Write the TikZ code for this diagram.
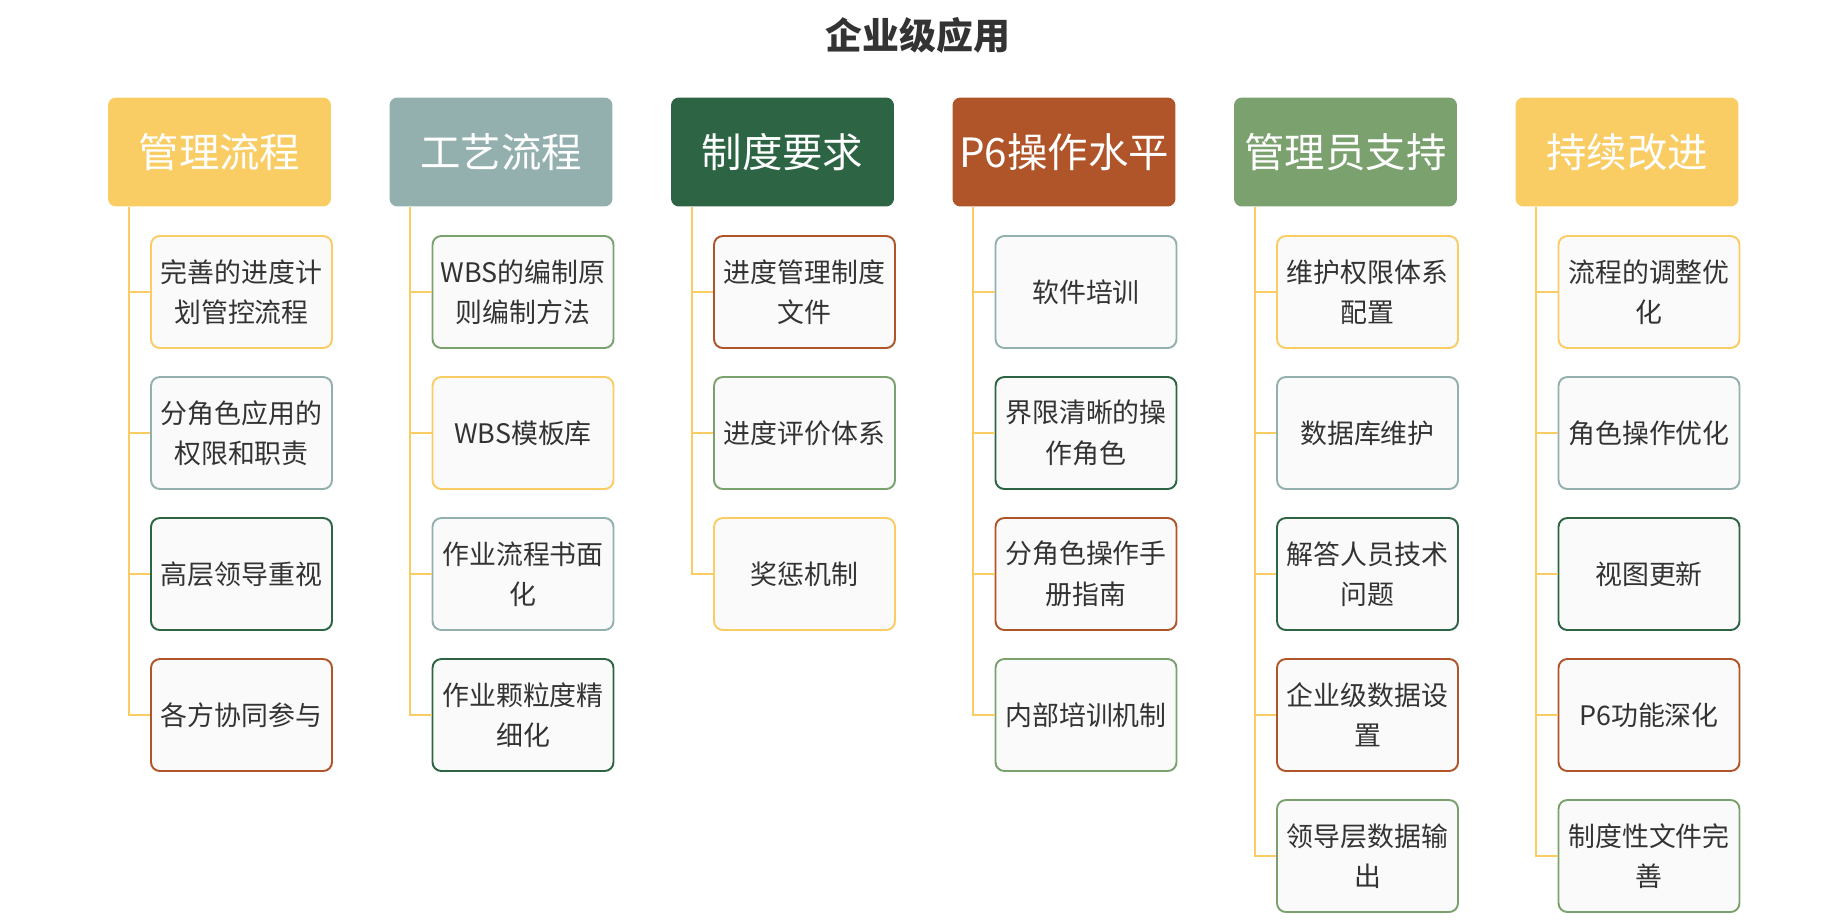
\documentclass[tikz,border=0pt]{standalone}
\usepackage{fontspec}
\usepackage{tikz}
\newfontfamily\cjk{Noto Sans CJK SC}
\definecolor{cyel}{HTML}{F9CC64}
\definecolor{cgry}{HTML}{93B0AE}
\definecolor{cdkg}{HTML}{2C6444}
\definecolor{crus}{HTML}{B0552A}
\definecolor{csag}{HTML}{7AA16E}
\definecolor{ctxt}{HTML}{333333}

\begin{document}
\begin{tikzpicture}[x=0.02cm, y=-0.02cm,
  every node/.style={font=\cjk},
  head/.style={rounded corners=4.5pt, minimum width=4.46cm, minimum height=2.18cm,
    text=white, font=\cjk\fontsize{23}{27}\selectfont},
  item/.style={rounded corners=5pt, line width=1.1pt, fill=black!2, text=ctxt,
    minimum width=3.62cm, minimum height=2.24cm, align=center,
    font=\cjk\fontsize{15.3}{23}\selectfont},
  trunk/.style={cyel, line width=1pt}]
  \useasboundingbox (0,0) rectangle (1847,921);
  \node[font=\cjk\bfseries\fontsize{21}{25}\selectfont, text=ctxt] (title) at (918,35) {企业级应用};

  % 管理流程
  \node[head, fill=cyel] (h1) at (219.5,152) {管理流程};
  \foreach \t/\c [count=\i] in {{完善的进度计\\划管控流程}/cyel, {分角色应用的\\权限和职责}/cgry,
      高层领导重视/cdkg, 各方协同参与/crus}
    \node[item, draw=\c] (c1-\i) at (241.5,151+141*\i) {\t};
  \foreach \i in {1,...,4} \draw[trunk] (h1.south west) ++(21,0) |- (c1-\i.west);

  % 工艺流程
  \node[head, fill=cgry] (h2) at (501,152) {工艺流程};
  \foreach \t/\c [count=\i] in {{WBS的编制原\\则编制方法}/csag, WBS模板库/cyel,
      {作业流程书面\\化}/cgry, {作业颗粒度精\\细化}/cdkg}
    \node[item, draw=\c] (c2-\i) at (523,151+141*\i) {\t};
  \foreach \i in {1,...,4} \draw[trunk] (h2.south west) ++(21,0) |- (c2-\i.west);

  % 制度要求
  \node[head, fill=cdkg] (h3) at (782.5,152) {制度要求};
  \foreach \t/\c [count=\i] in {{进度管理制度\\文件}/crus, 进度评价体系/csag, 奖惩机制/cyel}
    \node[item, draw=\c] (c3-\i) at (804.5,151+141*\i) {\t};
  \foreach \i in {1,...,3} \draw[trunk] (h3.south west) ++(21,0) |- (c3-\i.west);

  % P6操作水平
  \node[head, fill=crus] (h4) at (1064,152) {P6操作水平};
  \foreach \t/\c [count=\i] in {软件培训/cgry, {界限清晰的操\\作角色}/cdkg,
      {分角色操作手\\册指南}/crus, 内部培训机制/csag}
    \node[item, draw=\c] (c4-\i) at (1086,151+141*\i) {\t};
  \foreach \i in {1,...,4} \draw[trunk] (h4.south west) ++(21,0) |- (c4-\i.west);

  % 管理员支持
  \node[head, fill=csag] (h5) at (1345.5,152) {管理员支持};
  \foreach \t/\c [count=\i] in {{维护权限体系\\配置}/cyel, 数据库维护/cgry,
      {解答人员技术\\问题}/cdkg, {企业级数据设\\置}/crus, {领导层数据输\\出}/csag}
    \node[item, draw=\c] (c5-\i) at (1367.5,151+141*\i) {\t};
  \foreach \i in {1,...,5} \draw[trunk] (h5.south west) ++(21,0) |- (c5-\i.west);

  % 持续改进
  \node[head, fill=cyel] (h6) at (1627,152) {持续改进};
  \foreach \t/\c [count=\i] in {{流程的调整优\\化}/cyel, 角色操作优化/cgry,
      视图更新/cdkg, P6功能深化/crus, {制度性文件完\\善}/csag}
    \node[item, draw=\c] (c6-\i) at (1649,151+141*\i) {\t};
  \foreach \i in {1,...,5} \draw[trunk] (h6.south west) ++(21,0) |- (c6-\i.west);
\end{tikzpicture}
\end{document}
